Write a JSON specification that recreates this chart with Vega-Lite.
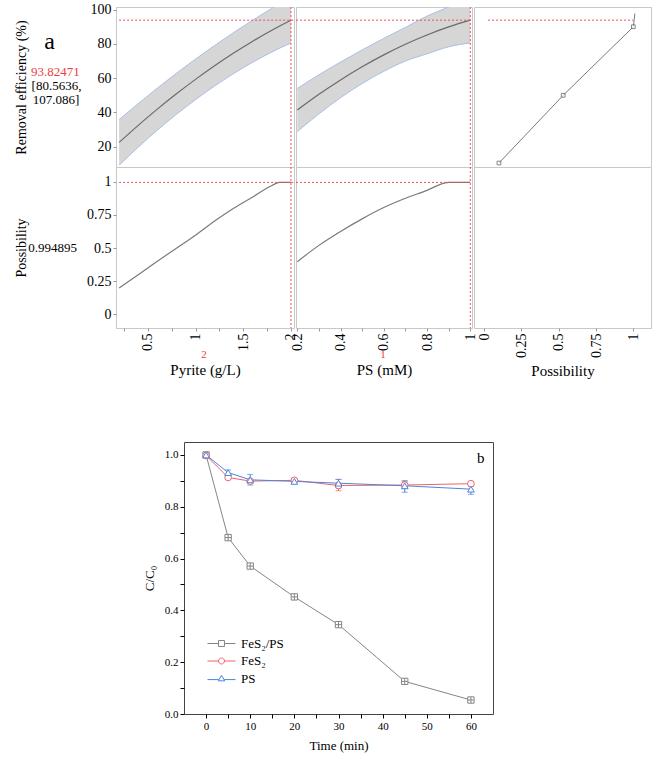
{
  "$schema": "https://vega.github.io/schema/vega-lite/v6.json",
  "padding": {"left": 14, "top": 2, "right": 5, "bottom": 5},
  "background": "white",
  "config": {
    "font": "Liberation Serif",
    "view": {"stroke": "#c8c8c8"},
    "axis": {"labelFont": "Liberation Serif", "titleFont": "Liberation Serif", "labelColor": "#000", "titleColor": "#000", "titleFontWeight": "normal", "grid": false, "domain": false, "tickColor": "#999", "tickSize": 3, "labelPadding": 2, "labelFontSize": 14, "titleFontSize": 15, "labelFlush": false, "labelOverlap": false},
    "text": {"font": "Liberation Serif"}
  },
  "datasets": {
    "pyr": [
      {"x": 0.2, "lo": 9.25, "mid": 22.55, "hi": 35.85},
      {"x": 0.4, "lo": 19.78, "mid": 32.49, "hi": 45.2},
      {"x": 0.6, "lo": 29.67, "mid": 41.93, "hi": 54.19},
      {"x": 0.8, "lo": 38.9, "mid": 50.87, "hi": 62.84},
      {"x": 1.0, "lo": 47.48, "mid": 59.3, "hi": 71.12},
      {"x": 1.2, "lo": 55.41, "mid": 67.23, "hi": 79.05},
      {"x": 1.4, "lo": 62.68, "mid": 74.65, "hi": 86.62},
      {"x": 1.6, "lo": 69.31, "mid": 81.57, "hi": 93.83},
      {"x": 1.8, "lo": 75.28, "mid": 87.99, "hi": 100.7},
      {"x": 2.0, "lo": 80.56, "mid": 93.82, "hi": 107.09}
    ],
    "ps": [
      {"x": 0.2, "lo": 28.8, "mid": 41.4, "hi": 54.0},
      {"x": 0.3, "lo": 39.18, "mid": 50.58, "hi": 61.98},
      {"x": 0.4, "lo": 48.6, "mid": 59.0, "hi": 69.4},
      {"x": 0.5, "lo": 56.88, "mid": 66.68, "hi": 76.48},
      {"x": 0.6, "lo": 64.0, "mid": 73.6, "hi": 83.2},
      {"x": 0.7, "lo": 69.98, "mid": 79.78, "hi": 89.58},
      {"x": 0.8, "lo": 74.2, "mid": 85.2, "hi": 96.2},
      {"x": 0.9, "lo": 78.28, "mid": 89.88, "hi": 101.48},
      {"x": 1.0, "lo": 80.56, "mid": 93.82, "hi": 107.09}
    ],
    "pyrD": [
      {"x": 0.2, "d": 0.198}, {"x": 0.4, "d": 0.299}, {"x": 0.6, "d": 0.4}, {"x": 0.8, "d": 0.499},
      {"x": 1.0, "d": 0.597}, {"x": 1.2, "d": 0.703}, {"x": 1.4, "d": 0.8}, {"x": 1.6, "d": 0.885},
      {"x": 1.8, "d": 0.972}, {"x": 1.88, "d": 0.995}, {"x": 2.0, "d": 0.995}
    ],
    "psD": [
      {"x": 0.2, "d": 0.397}, {"x": 0.3, "d": 0.52}, {"x": 0.4, "d": 0.625}, {"x": 0.5, "d": 0.72},
      {"x": 0.6, "d": 0.805}, {"x": 0.7, "d": 0.875}, {"x": 0.8, "d": 0.935}, {"x": 0.88, "d": 0.99},
      {"x": 0.9, "d": 0.995}, {"x": 1.0, "d": 0.995}
    ],
    "des": [
      {"x": 0.1, "y": 10.5, "pt": 1}, {"x": 0.53, "y": 50, "pt": 1}, {"x": 1.0, "y": 90, "pt": 1}, {"x": 1.01, "y": 97.7, "pt": 0}
    ],
    "labTop": [
      {"label": "a", "x": 0.25, "y": 81.1, "kind": "letter"},
      {"label": "93.82471", "x": 0.034, "y": 63.8, "kind": "pred"},
      {"label": "[80.5636,", "x": 0.042, "y": 55.6, "kind": "ci"},
      {"label": "107.086]", "x": 0.056, "y": 47.0, "kind": "ci"}
    ],
    "labBot": [
      {"label": "0.994895", "x": 0.004, "y": 0.5}
    ],
    "b": [
      {"s": "FeS₂/PS", "t": 0, "c": 1.0}, {"s": "FeS₂/PS", "t": 5, "c": 0.681}, {"s": "FeS₂/PS", "t": 10, "c": 0.571},
      {"s": "FeS₂/PS", "t": 20, "c": 0.452}, {"s": "FeS₂/PS", "t": 30, "c": 0.345}, {"s": "FeS₂/PS", "t": 45, "c": 0.126},
      {"s": "FeS₂/PS", "t": 60, "c": 0.054},
      {"s": "FeS₂", "t": 0, "c": 0.998}, {"s": "FeS₂", "t": 5, "c": 0.913}, {"s": "FeS₂", "t": 10, "c": 0.899},
      {"s": "FeS₂", "t": 20, "c": 0.902}, {"s": "FeS₂", "t": 30, "c": 0.882}, {"s": "FeS₂", "t": 45, "c": 0.884},
      {"s": "FeS₂", "t": 60, "c": 0.889},
      {"s": "PS", "t": 0, "c": 1.0}, {"s": "PS", "t": 5, "c": 0.932}, {"s": "PS", "t": 10, "c": 0.904},
      {"s": "PS", "t": 20, "c": 0.898}, {"s": "PS", "t": 30, "c": 0.891}, {"s": "PS", "t": 45, "c": 0.881},
      {"s": "PS", "t": 60, "c": 0.868}
    ],
    "berr": [
      {"s": "FeS₂", "t": 20, "lo": 0.894, "hi": 0.91}, {"s": "FeS₂", "t": 30, "lo": 0.862, "hi": 0.905},
      {"s": "FeS₂", "t": 45, "lo": 0.87, "hi": 0.898}, {"s": "FeS₂", "t": 60, "lo": 0.88, "hi": 0.898},
      {"s": "PS", "t": 5, "lo": 0.922, "hi": 0.942}, {"s": "PS", "t": 10, "lo": 0.884, "hi": 0.925},
      {"s": "PS", "t": 20, "lo": 0.89, "hi": 0.906}, {"s": "PS", "t": 30, "lo": 0.876, "hi": 0.906},
      {"s": "PS", "t": 45, "lo": 0.856, "hi": 0.901}, {"s": "PS", "t": 60, "lo": 0.848, "hi": 0.884}
    ]
  },
  "spacing": 62,
  "vconcat": [
    {
      "columns": 4,
      "bounds": "flush",
      "spacing": {"row": 0, "column": 2},
      "concat": [
        {
          "width": 86, "height": 160, "view": {"stroke": null},
          "data": {"name": "labTop"},
          "encoding": {
            "x": {"field": "x", "type": "quantitative", "scale": {"domain": [0, 1]}, "axis": null},
            "y": {"field": "y", "type": "quantitative", "scale": {"domain": [8.2, 101.5], "nice": false, "zero": false},
                  "axis": {"title": "Removal efficiency (%)", "labels": false, "ticks": false, "domain": false, "titlePadding": 0, "titleFontSize": 14}},
            "text": {"field": "label"}
          },
          "layer": [
            {
              "transform": [{"filter": "datum.kind === 'letter'"}],
              "mark": {"type": "text", "fontSize": 24, "align": "center", "baseline": "middle", "color": "#000"}
            },
            {
              "transform": [{"filter": "datum.kind === 'pred'"}],
              "mark": {"type": "text", "fontSize": 13, "align": "left", "baseline": "middle", "color": "#ee3b44"}
            },
            {
              "transform": [{"filter": "datum.kind === 'ci'"}],
              "mark": {"type": "text", "fontSize": 13, "align": "left", "baseline": "middle", "color": "#000"}
            }
          ]
        },
        {
          "width": 178, "height": 160,
          "encoding": {
            "x": {"type": "quantitative", "scale": {"domain": [0.167, 2.032], "nice": false, "zero": false}, "axis": null},
            "y": {"type": "quantitative", "scale": {"domain": [8.2, 101.5], "nice": false, "zero": false},
                  "axis": {"values": [20, 40, 60, 80, 100], "labelOverlap": false, "title": null}}
          },
          "layer": [
            {
              "data": {"name": "pyr"},
              "mark": {"type": "area", "color": "#d6d6d6", "clip": true, "interpolate": "monotone"},
              "encoding": {"x": {"field": "x", "type": "quantitative"}, "y": {"field": "lo", "type": "quantitative"}, "y2": {"field": "hi"}}
            },
            {
              "data": {"name": "pyr"},
              "mark": {"type": "line", "color": "#a9bfe6", "strokeWidth": 1, "clip": true, "interpolate": "monotone"},
              "encoding": {"x": {"field": "x", "type": "quantitative"}, "y": {"field": "hi", "type": "quantitative"}}
            },
            {
              "data": {"name": "pyr"},
              "mark": {"type": "line", "color": "#a9bfe6", "strokeWidth": 1, "clip": true, "interpolate": "monotone"},
              "encoding": {"x": {"field": "x", "type": "quantitative"}, "y": {"field": "lo", "type": "quantitative"}}
            },
            {
              "data": {"name": "pyr"},
              "mark": {"type": "line", "color": "#6a6a6a", "strokeWidth": 1.2, "clip": true, "interpolate": "monotone"},
              "encoding": {"x": {"field": "x", "type": "quantitative"}, "y": {"field": "mid", "type": "quantitative"}}
            },
            {
              "data": {"values": [{}]},
              "mark": {"type": "rule", "color": "#f0505a", "strokeDash": [2, 2], "strokeWidth": 1},
              "encoding": {"y": {"datum": 93.82471}, "x": {"datum": 0.2}, "x2": {"datum": 2.032}}
            },
            {
              "data": {"values": [{}]},
              "mark": {"type": "rule", "color": "#f0505a", "strokeDash": [2, 2], "strokeWidth": 1},
              "encoding": {"x": {"datum": 2}, "y": {"datum": 101.5}, "y2": {"datum": 8.2}}
            }
          ]
        },
        {
          "width": 176, "height": 160,
          "encoding": {
            "x": {"type": "quantitative", "scale": {"domain": [0.194, 1.008], "nice": false, "zero": false}, "axis": null},
            "y": {"type": "quantitative", "scale": {"domain": [8.2, 101.5], "nice": false, "zero": false}, "axis": null}
          },
          "layer": [
            {
              "data": {"name": "ps"},
              "mark": {"type": "area", "color": "#d6d6d6", "clip": true, "interpolate": "monotone"},
              "encoding": {"x": {"field": "x", "type": "quantitative"}, "y": {"field": "lo", "type": "quantitative"}, "y2": {"field": "hi"}}
            },
            {
              "data": {"name": "ps"},
              "mark": {"type": "line", "color": "#a9bfe6", "strokeWidth": 1, "clip": true, "interpolate": "monotone"},
              "encoding": {"x": {"field": "x", "type": "quantitative"}, "y": {"field": "hi", "type": "quantitative"}}
            },
            {
              "data": {"name": "ps"},
              "mark": {"type": "line", "color": "#a9bfe6", "strokeWidth": 1, "clip": true, "interpolate": "monotone"},
              "encoding": {"x": {"field": "x", "type": "quantitative"}, "y": {"field": "lo", "type": "quantitative"}}
            },
            {
              "data": {"name": "ps"},
              "mark": {"type": "line", "color": "#6a6a6a", "strokeWidth": 1.2, "clip": true, "interpolate": "monotone"},
              "encoding": {"x": {"field": "x", "type": "quantitative"}, "y": {"field": "mid", "type": "quantitative"}}
            },
            {
              "data": {"values": [{}]},
              "mark": {"type": "rule", "color": "#f0505a", "strokeDash": [2, 2], "strokeWidth": 1},
              "encoding": {"y": {"datum": 93.82471}, "x": {"datum": 0.194}, "x2": {"datum": 1.008}}
            },
            {
              "data": {"values": [{}]},
              "mark": {"type": "rule", "color": "#f0505a", "strokeDash": [2, 2], "strokeWidth": 1},
              "encoding": {"x": {"datum": 1}, "y": {"datum": 101.5}, "y2": {"datum": 8.2}}
            }
          ]
        },
        {
          "width": 177, "height": 160,
          "encoding": {
            "x": {"type": "quantitative", "scale": {"domain": [-0.067, 1.118], "nice": false, "zero": false}, "axis": null},
            "y": {"type": "quantitative", "scale": {"domain": [8.2, 101.5], "nice": false, "zero": false}, "axis": null}
          },
          "layer": [
            {
              "data": {"name": "des"},
              "mark": {"type": "line", "color": "#7a7a7a", "strokeWidth": 1},
              "encoding": {"x": {"field": "x", "type": "quantitative"}, "y": {"field": "y", "type": "quantitative"}}
            },
            {
              "data": {"name": "des"},
              "transform": [{"filter": "datum.pt == 1"}],
              "mark": {"type": "point", "shape": "square", "filled": false, "fill": "white", "color": "#555", "size": 14, "strokeWidth": 1},
              "encoding": {"x": {"field": "x", "type": "quantitative"}, "y": {"field": "y", "type": "quantitative"}}
            },
            {
              "data": {"values": [{}]},
              "mark": {"type": "rule", "color": "#f0505a", "strokeDash": [2, 2], "strokeWidth": 1},
              "encoding": {"y": {"datum": 93.82471}, "x": {"datum": 0.027}, "x2": {"datum": 1.0}}
            }
          ]
        },
        {
          "width": 86, "height": 161, "view": {"stroke": null},
          "data": {"name": "labBot"},
          "mark": {"type": "text", "fontSize": 13, "align": "left", "baseline": "middle", "color": "#000"},
          "encoding": {
            "x": {"field": "x", "type": "quantitative", "scale": {"domain": [0, 1]}, "axis": null},
            "y": {"field": "y", "type": "quantitative", "scale": {"domain": [-0.103, 1.111], "nice": false, "zero": false},
                  "axis": {"title": "Possibility", "labels": false, "ticks": false, "domain": false, "titlePadding": 0, "titleFontSize": 14}},
            "text": {"field": "label"}
          }
        },
        {
          "width": 178, "height": 161,
          "encoding": {
            "x": {"type": "quantitative", "scale": {"domain": [0.167, 2.032], "nice": false, "zero": false},
                  "axis": {"values": [0.25, 0.5, 0.75, 1, 1.25, 1.5, 1.75, 2], "labelExpr": "(datum.value * 4) % 2 == 0 ? format(datum.value, '~g') : ''", "labelOverlap": false, "labelAngle": 270, "title": "Pyrite (g/L)", "titlePadding": 12}},
            "y": {"type": "quantitative", "scale": {"domain": [-0.103, 1.111], "nice": false, "zero": false},
                  "axis": {"values": [0, 0.25, 0.5, 0.75, 1], "labelExpr": "format(datum.value, '~g')", "labelOverlap": false, "title": null}}
          },
          "layer": [
            {
              "data": {"name": "pyrD"},
              "mark": {"type": "line", "color": "#7a7a7a", "strokeWidth": 1.2, "interpolate": "monotone"},
              "encoding": {"x": {"field": "x", "type": "quantitative"}, "y": {"field": "d", "type": "quantitative"}}
            },
            {
              "data": {"values": [{}]},
              "mark": {"type": "rule", "color": "#f0505a", "strokeDash": [2, 2], "strokeWidth": 1},
              "encoding": {"y": {"datum": 0.994895}, "x": {"datum": 0.2}, "x2": {"datum": 2.032}}
            },
            {
              "data": {"values": [{}]},
              "mark": {"type": "rule", "color": "#f0505a", "strokeDash": [2, 2], "strokeWidth": 1},
              "encoding": {"x": {"datum": 2}, "y": {"datum": 1.111}, "y2": {"datum": -0.103}}
            },
            {
              "data": {"values": [{"x": 1.09, "y": -0.307, "label": "2"}]},
              "mark": {"type": "text", "color": "#f03a40", "fontSize": 11, "baseline": "middle"},
              "encoding": {"x": {"field": "x", "type": "quantitative"}, "y": {"field": "y", "type": "quantitative"}, "text": {"field": "label"}}
            }
          ]
        },
        {
          "width": 176, "height": 161,
          "encoding": {
            "x": {"type": "quantitative", "scale": {"domain": [0.194, 1.008], "nice": false, "zero": false},
                  "axis": {"values": [0.2, 0.3, 0.4, 0.5, 0.6, 0.7, 0.8, 0.9, 1], "labelExpr": "round(datum.value * 10) % 2 == 0 ? format(datum.value, '~g') : ''", "labelOverlap": false, "labelAngle": 270, "title": "PS (mM)", "titlePadding": 12}},
            "y": {"type": "quantitative", "scale": {"domain": [-0.103, 1.111], "nice": false, "zero": false}, "axis": null}
          },
          "layer": [
            {
              "data": {"name": "psD"},
              "mark": {"type": "line", "color": "#7a7a7a", "strokeWidth": 1.2, "interpolate": "monotone"},
              "encoding": {"x": {"field": "x", "type": "quantitative"}, "y": {"field": "d", "type": "quantitative"}}
            },
            {
              "data": {"values": [{}]},
              "mark": {"type": "rule", "color": "#f0505a", "strokeDash": [2, 2], "strokeWidth": 1},
              "encoding": {"y": {"datum": 0.994895}, "x": {"datum": 0.194}, "x2": {"datum": 1.008}}
            },
            {
              "data": {"values": [{}]},
              "mark": {"type": "rule", "color": "#f0505a", "strokeDash": [2, 2], "strokeWidth": 1},
              "encoding": {"x": {"datum": 1}, "y": {"datum": 1.111}, "y2": {"datum": -0.103}}
            },
            {
              "data": {"values": [{"x": 0.596, "y": -0.307, "label": "1"}]},
              "mark": {"type": "text", "color": "#f03a40", "fontSize": 11, "baseline": "middle"},
              "encoding": {"x": {"field": "x", "type": "quantitative"}, "y": {"field": "y", "type": "quantitative"}, "text": {"field": "label"}}
            }
          ]
        },
        {
          "width": 177, "height": 161,
          "data": {"values": [{"x": 0.5, "y": 0.5}]},
          "mark": {"type": "point", "opacity": 0},
          "encoding": {
            "x": {"field": "x", "type": "quantitative", "scale": {"domain": [-0.067, 1.118], "nice": false, "zero": false},
                  "axis": {"values": [0, 0.25, 0.5, 0.75, 1], "labelExpr": "format(datum.value, '~g')", "labelOverlap": false, "labelAngle": 270, "title": "Possibility", "titlePadding": 6}},
            "y": {"field": "y", "type": "quantitative", "scale": {"domain": [-0.103, 1.111], "nice": false, "zero": false}, "axis": null}
          }
        }
      ]
    },
    {
      "spacing": 0,
      "resolve": {"scale": {"color": "independent"}, "legend": {"color": "independent"}},
      "hconcat": [
        {
          "width": 114, "height": 10, "view": {"stroke": null},
          "data": {"values": []},
          "mark": "point"
        },
        {
          "width": 309, "height": 272,
          "view": {"stroke": "#444", "strokeWidth": 1},
          "encoding": {
            "x": {"type": "quantitative", "scale": {"domain": [-5, 65], "nice": false, "zero": false},
                  "axis": {"values": [0, 5, 10, 15, 20, 25, 30, 35, 40, 45, 50, 55, 60], "labelExpr": "datum.value % 10 == 0 ? datum.label : ''", "labelOverlap": false, "title": "Time (min)", "titleFontSize": 13, "labelFontSize": 11, "tickSize": 4, "tickColor": "#000", "labelPadding": 2, "titlePadding": 8}},
            "y": {"type": "quantitative", "scale": {"domain": [0, 1.05], "nice": false, "zero": false},
                  "axis": {"values": [0, 0.1, 0.2, 0.3, 0.4, 0.5, 0.6, 0.7, 0.8, 0.9, 1.0], "labelExpr": "round(datum.value * 10) % 2 == 0 ? format(datum.value, '.1f') : ''", "labelOverlap": false, "title": "C/C₀", "titleFontSize": 13, "labelFontSize": 11, "tickSize": 4, "tickColor": "#000", "labelPadding": 2, "titlePadding": 8}}
          },
          "layer": [
            {
              "data": {"name": "b"},
              "mark": {"type": "line", "strokeWidth": 1},
              "encoding": {
                "x": {"field": "t", "type": "quantitative"},
                "y": {"field": "c", "type": "quantitative"},
                "color": {"field": "s", "type": "nominal", "scale": {"domain": ["FeS₂/PS", "FeS₂", "PS"], "range": ["#858585", "#f0626a", "#4a86dc"]},
                          "legend": {"title": null, "orient": "bottom-left", "offset": 28, "symbolSize": 324, "symbolStrokeWidth": 1, "symbolType": "stroke", "labelFont": "Liberation Serif", "labelFontSize": 13, "labelOffset": 10, "rowPadding": 0.5,
                                     "encoding": {"symbols": {
                                       "shape": {"value": {"expr": "datum.value === 'PS' ? 'M-1.556,0.12H-0.3M0.3,0.12H1.556M-0.36,0.26L0,-0.36L0.36,0.26Z' : datum.value === 'FeS₂' ? 'M-1.556,0H-0.33M0.33,0H1.556M0.33,0A0.33,0.33,0,1,1,-0.33,0A0.33,0.33,0,1,1,0.33,0' : 'M-1.556,0H-0.33M0.33,0H1.556M-0.33,-0.33H0.33V0.33H-0.33Z'"}},
                                       "fill": {"value": "transparent"},
                                       "strokeWidth": {"value": 1}
                                     }}}}
              }
            },
            {
              "data": {"name": "berr"},
              "transform": [{"filter": "datum.s === 'FeS₂'"}],
              "mark": {"type": "errorbar", "ticks": {"size": 6}, "thickness": 1, "color": "#f0626a"},
              "encoding": {"x": {"field": "t", "type": "quantitative"}, "y": {"field": "lo", "type": "quantitative"}, "y2": {"field": "hi"}}
            },
            {
              "data": {"name": "berr"},
              "transform": [{"filter": "datum.s === 'PS'"}],
              "mark": {"type": "errorbar", "ticks": {"size": 6}, "thickness": 1, "color": "#4a86dc"},
              "encoding": {"x": {"field": "t", "type": "quantitative"}, "y": {"field": "lo", "type": "quantitative"}, "y2": {"field": "hi"}}
            },
            {
              "data": {"name": "b"},
              "transform": [{"filter": "datum.s === 'FeS₂/PS'"}],
              "mark": {"type": "point", "shape": "M-1,-1H1V1H-1ZM0,-1V1M-1,0H1", "filled": false, "fill": "white", "stroke": "#858585", "size": 40, "strokeWidth": 1, "opacity": 1},
              "encoding": {"x": {"field": "t", "type": "quantitative"}, "y": {"field": "c", "type": "quantitative"}}
            },
            {
              "data": {"name": "b"},
              "transform": [{"filter": "datum.s === 'FeS₂'"}],
              "mark": {"type": "point", "shape": "circle", "filled": false, "fill": "white", "stroke": "#f0626a", "size": 45, "strokeWidth": 1, "opacity": 1},
              "encoding": {"x": {"field": "t", "type": "quantitative"}, "y": {"field": "c", "type": "quantitative"}}
            },
            {
              "data": {"name": "b"},
              "transform": [{"filter": "datum.s === 'PS'"}],
              "mark": {"type": "point", "shape": "triangle-up", "filled": false, "fill": "white", "stroke": "#4a86dc", "size": 45, "strokeWidth": 1, "opacity": 1},
              "encoding": {"x": {"field": "t", "type": "quantitative"}, "y": {"field": "c", "type": "quantitative"}}
            },
            {
              "data": {"values": [{"t": 62.2, "c": 0.99, "label": "b"}]},
              "mark": {"type": "text", "fontSize": 15, "baseline": "middle", "color": "#000"},
              "encoding": {"x": {"field": "t", "type": "quantitative"}, "y": {"field": "c", "type": "quantitative"}, "text": {"field": "label"}}
            }
          ]
        }
      ]
    }
  ]
}
